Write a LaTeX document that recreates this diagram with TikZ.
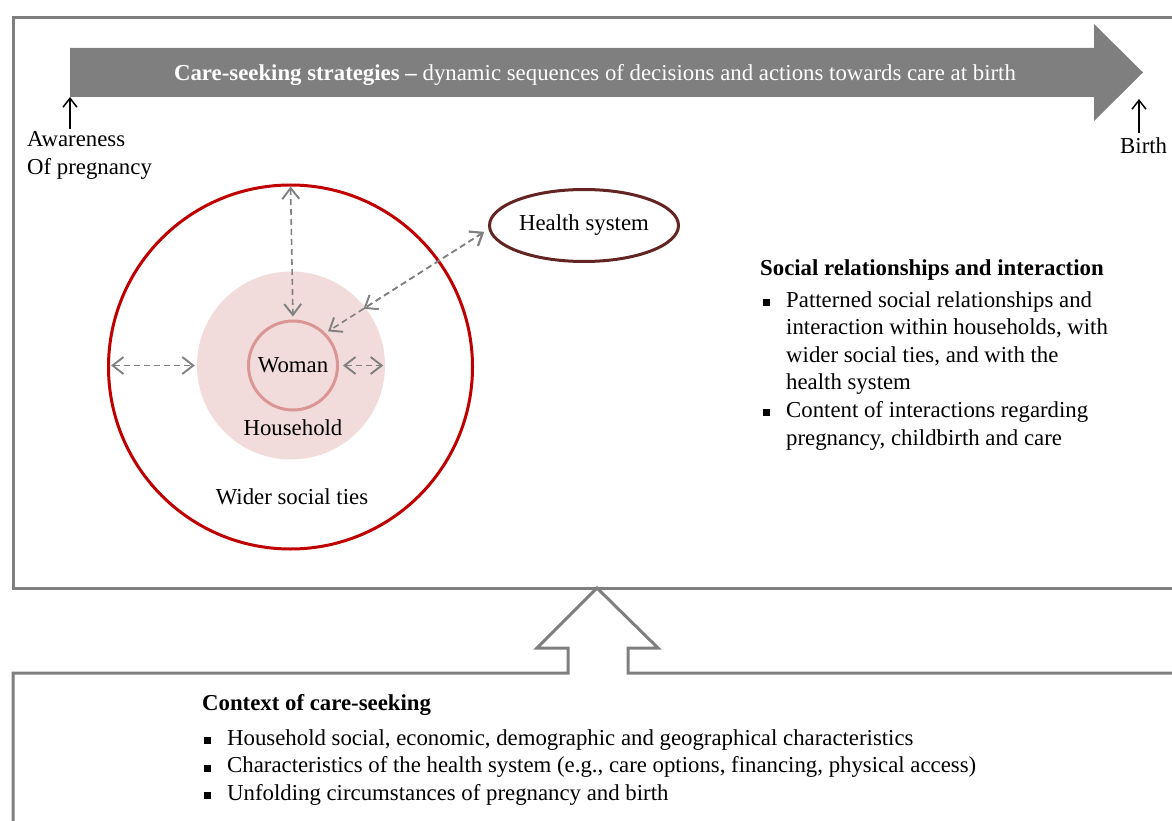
\documentclass[tikz,border=0pt]{standalone}
\usepackage{fontspec}
\setmainfont{Liberation Serif}
\usetikzlibrary{arrows.meta,shapes.geometric,calc}

\definecolor{framegray}{RGB}{127,127,127}
\definecolor{linkgray}{RGB}{128,128,128}
\definecolor{tiesred}{RGB}{192,0,0}
\definecolor{hhpink}{RGB}{242,220,219}
\definecolor{womanrose}{RGB}{217,150,148}
\definecolor{hsbrown}{RGB}{99,37,35}

\newcommand{\sqbullet}{\rule[1pt]{7pt}{7pt}}

\tikzset{
  txt/.style={font=\fontsize{22.8}{27.6}\selectfont, inner sep=0pt, text=black},
  frame/.style={draw=framegray, line width=3pt, line join=miter},
  link/.style={draw=linkgray, line width=1.6pt, dash pattern=on 6pt off 4pt,
    {Straight Barb[length=11pt,width=17pt,line width=1.9pt]}-{Straight Barb[length=11pt,width=17pt,line width=1.9pt]}},
  pointer/.style={draw=black, line width=1.4pt, -{Straight Barb[length=9pt,width=14pt,line width=1.5pt]}},
}

\begin{document}
\begin{tikzpicture}[x=1pt,y=-1pt]
\useasboundingbox (0,0) rectangle (1172,821);
\clip (0,0) rectangle (1172,821);

% upper panel frame
\draw[frame] (1190,18) -- (13,18) -- (13,588) -- (1190,588);

% lower panel frame merged with the hollow upward arrow
\draw[frame] (13,840) -- (13,673) -- (568,673) -- (568,648) -- (537,648)
  -- (597,588) -- (658,648) -- (628,648) -- (628,673) -- (1190,673);

% timeline arrow
\fill[framegray] (70,48) -- (1094,48) -- (1094,24) -- (1143,72.5)
  -- (1094,121) -- (1094,97) -- (70,97) -- cycle;
\node[txt, text=white, anchor=base] (strat) at (595,81)
  {\textbf{Care-seeking strategies –} dynamic sequences of decisions and actions towards care at birth};

% start and end of the timeline
\node[txt, anchor=base west] (aware) at (27,147)
  {\begin{tabular}[t]{@{}l@{}}Awareness\\Of pregnancy\end{tabular}};
\coordinate (awarefoot) at (70,129);
\coordinate (awaretip) at (70,97);
\draw[pointer] (awarefoot) -- (awaretip);

\node[txt, anchor=base west] (birth) at (1120,154) {Birth};
\coordinate (birthfoot) at (1139,133);
\coordinate (birthtip) at (1139,99);
\draw[pointer] (birthfoot) -- (birthtip);

% nested circles of social ties
\node[circle, draw=tiesred, line width=3pt, minimum size=364pt, inner sep=0pt] (wider) at (290.5,367) {};
\node[circle, fill=hhpink, minimum size=188pt, inner sep=0pt] (household) at (291,365.5) {};
\node[txt, circle, draw=womanrose, line width=3pt, minimum size=89pt] (woman) at (293,365.5) {Woman};
\node[txt, anchor=base] (hhlabel) at (293,435.5) {Household};
\node[txt, anchor=base] (widerlabel) at (292,504) {Wider social ties};

% health system
\node[txt, ellipse, draw=hsbrown, line width=3pt, minimum width=189pt, minimum height=72pt] (health) at (584,225.5) {Health system};

% interactions
\draw[link, shorten <=3pt, shorten >=3pt] (wider.north) -- (woman.north);
\draw[link, shorten <=4pt, shorten >=2pt] (wider.west |- woman.center) -- (household.west |- woman.center);
\draw[link, shorten <=4pt, shorten >=2pt] (woman.east) -- (household.east |- woman.center);
\coordinate (hsend) at ([xshift=-4pt,yshift=-6.5pt]health.west);
\coordinate (hhedge) at ($(hsend)!0.76!(woman.45)$);
\draw[link, shorten >=3pt] (hsend) -- (woman.45);
\draw[link] (hsend) -- (hhedge);

% description of relationships
\node[txt, anchor=base west] (social) at (760,275)
  {\begin{tabular}[t]{@{\hspace{2.5pt}}l@{\hspace{16.5pt}}l@{}}
   \multicolumn{2}{@{}l@{}}{\textbf{Social relationships and interaction}}\\[4.4pt]
   \sqbullet & Patterned social relationships and\\
             & interaction within households, with\\
             & wider social ties, and with the\\
             & health system\\
   \sqbullet & Content of interactions regarding\\
             & pregnancy, childbirth and care
   \end{tabular}};

% context of care-seeking
\node[txt, anchor=base west] (context) at (202,710)
  {\begin{tabular}[t]{@{\hspace{1.5pt}}l@{\hspace{16.5pt}}l@{}}
   \multicolumn{2}{@{}l@{}}{\textbf{Context of care-seeking}}\\[7.4pt]
   \sqbullet & Household social, economic, demographic and geographical characteristics\\
   \sqbullet & Characteristics of the health system (e.g., care options, financing, physical access)\\
   \sqbullet & Unfolding circumstances of pregnancy and birth
   \end{tabular}};
\end{tikzpicture}
\end{document}
